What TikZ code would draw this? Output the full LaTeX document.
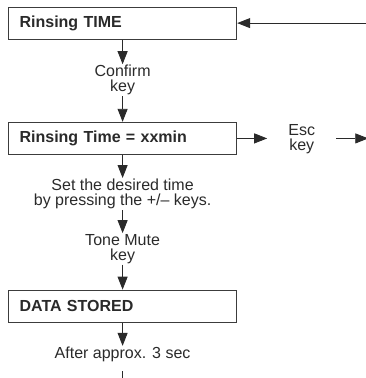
\documentclass[tikz,border=0pt]{standalone}
\usepackage{fontspec}
\setmainfont{Liberation Sans}
\usepackage{tikz}
\usetikzlibrary{arrows.meta, positioning}
\definecolor{ink}{HTML}{2A2A2A}
\definecolor{frame}{HTML}{3C3C3C}
\tikzset{
    stepbox/.style={draw=frame, line width=1.2pt, fill=white, text=ink, text width=206pt, align=left, inner xsep=11pt, inner ysep=0pt, minimum height=32pt, font=\fontsize{16}{14.8}\selectfont\bfseries},
    keylabel/.style={text=ink, align=center, inner xsep=2pt, inner ysep=1pt, font=\fontsize{16}{14.8}\selectfont},
    arr/.style={-{Triangle[length=13pt, width=10pt]}, line width=0.9pt, draw=ink},
    plain/.style={line width=0.9pt, draw=ink}
}
\begin{document}
\begin{tikzpicture}[x=1pt, y=1pt]
    \useasboundingbox (0,0) rectangle (366,-378);

    \node[stepbox, anchor=north west] (rinse) at (8,-6.5) {Rinsing TIME};
    \node[keylabel, below=24.5pt of rinse] (confirm) {Confirm\\key};
    \node[stepbox, below=25.5pt of confirm] (rinsetime) {Rinsing Time = xxmin};
    \node[keylabel, inner xsep=21pt, right=30pt of rinsetime, yshift=-1pt] (esc) {Esc\\key};
    \node[keylabel, below=23pt of rinsetime] (settime) {Set the desired time\\by pressing the +/-- keys.};
    \node[keylabel, below=23pt of settime] (mute) {Tone Mute\\key};
    \node[stepbox, below=25pt of mute] (stored) {DATA STORED};
    \node[keylabel, below=23pt of stored] (wait) {After approx. 3 sec};

    % loose ends at the page edge
    \coordinate[right=130pt of rinse] (back);
    \coordinate[right=32pt of esc] (escout);
    \coordinate (exit) at (wait.south |- 0,-380);

    \draw[arr] (back) -- (rinse);
    \draw[arr] (rinse) -- (confirm);
    \draw[arr] (confirm) -- (rinsetime);
    \draw[arr] (rinsetime) -- (rinsetime.east -| esc.west);
    \draw[arr] (esc.east |- rinsetime.east) -- (escout |- rinsetime.east);
    \draw[arr] (rinsetime) -- (settime);
    \draw[arr] (settime) -- (mute);
    \draw[arr] (mute) -- (stored);
    \draw[arr] (stored) -- (wait);
    \draw[plain, shorten <=8pt] (wait) -- (exit);
\end{tikzpicture}
\end{document}
